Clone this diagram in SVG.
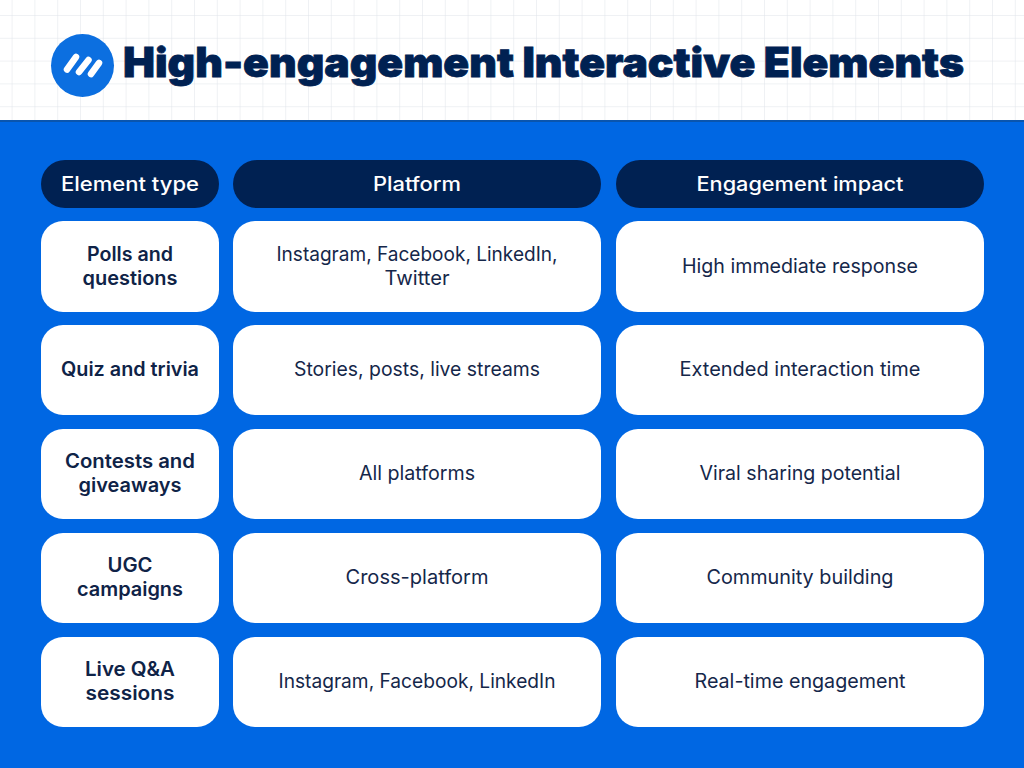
<svg xmlns="http://www.w3.org/2000/svg" width="1024" height="768" viewBox="0 0 1024 768">
<defs>
<pattern id="grid" x="11.6" y="15" width="22.8" height="22.8" patternUnits="userSpaceOnUse"><path d="M0 0V22.8M0 0H22.8" fill="none" stroke="#e0e3ea" stroke-width="1"/></pattern>
</defs>
<style>
text{font-family:"Inter","Noto Sans","Liberation Sans",sans-serif;text-anchor:middle;font-size:19.5px;fill:#15274a}
.hd rect{fill:#002152}
.hd text{fill:#fff;font-weight:500}
.cell rect{fill:#fff}
.b text{font-weight:600;fill:#0f2347}
.r text{font-weight:400}
#title text{font-size:41px;font-weight:900;fill:#002152;text-anchor:start;stroke:#002152;stroke-width:0.8px}
</style>
<rect width="1024" height="768" fill="#fff"/>
<rect width="1024" height="120" fill="url(#grid)"/>
<rect x="0" y="120" width="1024" height="648" fill="#0067e3"/>
<rect x="0" y="120" width="1024" height="2" fill="#0a55ad"/>
<g id="logo"><circle cx="82.500" cy="65.500" r="31.500" fill="#0c6fe0"/>
<g stroke="#fff" stroke-width="6.500" stroke-linecap="round"><path d="M67 69.500L76 57M79 72L88.500 60M91 74L99 63"/></g></g>
<g id="title"><text x="123" y="77" textLength="841" lengthAdjust="spacingAndGlyphs">High-engagement Interactive Elements</text></g>
<g id="connectors"/>
<g id="head-element" class="hd"><rect x="41" y="160" width="178" height="48" rx="24"/><text x="130" y="191" textLength="138" lengthAdjust="spacingAndGlyphs">Element type</text></g>
<g id="head-platform" class="hd"><rect x="233" y="160" width="368" height="48" rx="24"/><text x="417" y="191" textLength="88" lengthAdjust="spacingAndGlyphs">Platform</text></g>
<g id="head-impact" class="hd"><rect x="616" y="160" width="368" height="48" rx="24"/><text x="800" y="191" textLength="207" lengthAdjust="spacingAndGlyphs">Engagement impact</text></g>

<g id="r1-type" class="cell b"><rect x="41" y="221" width="178" height="91" rx="22"/><text x="130" y="261" textLength="86" lengthAdjust="spacingAndGlyphs">Polls and</text><text x="130" y="285" textLength="95" lengthAdjust="spacingAndGlyphs">questions</text></g>
<g id="r1-platform" class="cell r"><rect x="233" y="221" width="368" height="91" rx="22"/><text x="417" y="261" textLength="281" lengthAdjust="spacingAndGlyphs">Instagram, Facebook, LinkedIn,</text><text x="417" y="285" textLength="65" lengthAdjust="spacingAndGlyphs">Twitter</text></g>
<g id="r1-impact" class="cell r"><rect x="616" y="221" width="368" height="91" rx="22"/><text x="800" y="273" textLength="236" lengthAdjust="spacingAndGlyphs">High immediate response</text></g>

<g id="r2-type" class="cell b"><rect x="41" y="325" width="178" height="90" rx="22"/><text x="130" y="376" textLength="138" lengthAdjust="spacingAndGlyphs">Quiz and trivia</text></g>
<g id="r2-platform" class="cell r"><rect x="233" y="325" width="368" height="90" rx="22"/><text x="417" y="376" textLength="246" lengthAdjust="spacingAndGlyphs">Stories, posts, live streams</text></g>
<g id="r2-impact" class="cell r"><rect x="616" y="325" width="368" height="90" rx="22"/><text x="800" y="376" textLength="241" lengthAdjust="spacingAndGlyphs">Extended interaction time</text></g>

<g id="r3-type" class="cell b"><rect x="41" y="429" width="178" height="90" rx="22"/><text x="130" y="468" textLength="130" lengthAdjust="spacingAndGlyphs">Contests and</text><text x="130" y="492" textLength="103" lengthAdjust="spacingAndGlyphs">giveaways</text></g>
<g id="r3-platform" class="cell r"><rect x="233" y="429" width="368" height="90" rx="22"/><text x="417" y="480" textLength="116" lengthAdjust="spacingAndGlyphs">All platforms</text></g>
<g id="r3-impact" class="cell r"><rect x="616" y="429" width="368" height="90" rx="22"/><text x="800" y="480" textLength="201" lengthAdjust="spacingAndGlyphs">Viral sharing potential</text></g>

<g id="r4-type" class="cell b"><rect x="41" y="533" width="178" height="90" rx="22"/><text x="130" y="572" textLength="45" lengthAdjust="spacingAndGlyphs">UGC</text><text x="130" y="596" textLength="106" lengthAdjust="spacingAndGlyphs">campaigns</text></g>
<g id="r4-platform" class="cell r"><rect x="233" y="533" width="368" height="90" rx="22"/><text x="417" y="584" textLength="143" lengthAdjust="spacingAndGlyphs">Cross-platform</text></g>
<g id="r4-impact" class="cell r"><rect x="616" y="533" width="368" height="90" rx="22"/><text x="800" y="584" textLength="187" lengthAdjust="spacingAndGlyphs">Community building</text></g>

<g id="r5-type" class="cell b"><rect x="41" y="637" width="178" height="90" rx="22"/><text x="130" y="676" textLength="90" lengthAdjust="spacingAndGlyphs">Live Q&amp;A</text><text x="130" y="700" textLength="89" lengthAdjust="spacingAndGlyphs">sessions</text></g>
<g id="r5-platform" class="cell r"><rect x="233" y="637" width="368" height="90" rx="22"/><text x="417" y="688" textLength="277" lengthAdjust="spacingAndGlyphs">Instagram, Facebook, LinkedIn</text></g>
<g id="r5-impact" class="cell r"><rect x="616" y="637" width="368" height="90" rx="22"/><text x="800" y="688" textLength="211" lengthAdjust="spacingAndGlyphs">Real-time engagement</text></g>
</svg>
